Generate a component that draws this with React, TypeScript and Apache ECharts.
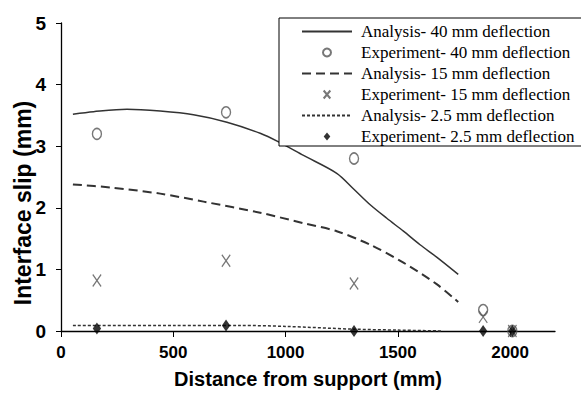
import React, { useEffect, useRef } from "react";
import * as echarts from "echarts";

const xTicks = [0, 500, 1000, 1500, 2000];

const analysis40: [number, number][] = [
  [53, 3.52], [145, 3.56], [294, 3.6], [442, 3.57], [590, 3.51], [739, 3.39],
  [887, 3.21], [969, 3.07], [1080, 2.85], [1228, 2.56], [1302, 2.31], [1377, 2.05],
  [1451, 1.83], [1525, 1.62], [1599, 1.4], [1673, 1.2], [1769, 0.92],
];
const analysis15: [number, number][] = [
  [53, 2.38], [219, 2.33], [442, 2.23], [635, 2.1], [887, 1.92], [1080, 1.75],
  [1228, 1.62], [1377, 1.4], [1525, 1.11], [1673, 0.76], [1769, 0.47],
];
const analysis25: [number, number][] = [
  [53, 0.09], [500, 0.09], [800, 0.09], [1000, 0.075], [1300, 0.03], [1500, 0.015], [1700, 0.0],
];
const experiment40: [number, number][] = [
  [160, 3.2], [735, 3.55], [1305, 2.8], [1880, 0.34], [2010, 0],
];
const experiment15: [number, number][] = [
  [160, 0.82], [735, 1.14], [1305, 0.77], [1880, 0.23], [2010, 0],
];
const experiment25: [number, number][] = [
  [160, 0.04], [735, 0.09], [1305, 0.0], [1880, 0.0], [2010, 0],
];

const names = [
  "Analysis- 40 mm deflection",
  "Experiment- 40 mm deflection",
  "Analysis- 15 mm deflection",
  "Experiment- 15 mm deflection",
  "Analysis- 2.5 mm deflection",
  "Experiment- 2.5 mm deflection",
];
const yTitle = "Interface slip (mm)";
const xTitle = "Distance from support (mm)";

const CROSS = "path://M0,0L10,12M10,0L0,12";
const DIAMOND = "path://M5,0L10,6L5,12L0,6Z";
const axisFont = "Arial, 'Liberation Sans', sans-serif";

export default function App() {
  const ref = useRef<HTMLDivElement>(null);
  useEffect(() => {
    if (!ref.current) return;
    const chart = echarts.init(ref.current, undefined, { renderer: "svg" });
    chart.setOption({
      animation: false,
      backgroundColor: "#ffffff",
      grid: { left: 61, top: 23, width: 494, height: 311 },
      graphic: [
        {
          type: "text",
          x: 23,
          y: 203,
          rotation: Math.PI / 2,
          style: {
            text: yTitle,
            font: "bold 23px Arial, 'Liberation Sans', sans-serif",
            fill: "#000",
            textAlign: "center",
            textVerticalAlign: "middle",
          },
        },
      ],
      legend: {
        orient: "vertical",
        left: 279,
        top: 18,
        padding: [5, 22, 1, 22],
        itemWidth: 50,
        itemHeight: 8,
        itemGap: 4,
        backgroundColor: "#ffffff",
        borderColor: "#000",
        borderWidth: 1,
        borderRadius: 0,
        data: names,
        textStyle: {
          fontFamily: "'Liberation Serif', 'Times New Roman', serif",
          fontSize: 17,
          lineHeight: 17,
          color: "#000",
          padding: [0, 0, 0, 4],
        },
      },
      xAxis: {
        type: "value",
        min: 0,
        max: 2200,
        interval: 500,
        name: xTitle,
        nameLocation: "middle",
        nameGap: 38,
        nameTextStyle: { fontFamily: axisFont, fontWeight: "bold", fontSize: 20, color: "#000" },
        axisLine: { lineStyle: { color: "#000", width: 1.3 } },
        axisTick: { show: true, length: 6, lineStyle: { color: "#000" }, customValues: xTicks },
        axisLabel: {
          customValues: xTicks,
          formatter: (v: number) => String(v),
          margin: 13,
          fontFamily: axisFont,
          fontWeight: "bold",
          fontSize: 17,
          color: "#000",
        },
        splitLine: { show: false },
      },
      yAxis: {
        type: "value",
        min: 0,
        max: 5,
        interval: 1,
        axisLine: { show: true, lineStyle: { color: "#000", width: 1.3 } },
        axisTick: { show: true, length: 5, lineStyle: { color: "#000" } },
        axisLabel: { margin: 15, fontFamily: axisFont, fontWeight: "bold", fontSize: 19, color: "#000" },
        splitLine: { show: false },
      },
      series: [
        {
          name: names[0], type: "line", data: analysis40, smooth: 0.3, symbol: "none",
          lineStyle: { color: "#333", width: 1.5, type: "solid" }, itemStyle: { color: "#333", opacity: 0 }, z: 2,
        },
        {
          name: names[1], type: "scatter", data: experiment40, symbol: "circle", symbolSize: [9, 11],
          itemStyle: { color: "rgba(255,255,255,0)", borderColor: "#555", borderWidth: 1.5 }, z: 3,
        },
        {
          name: names[2], type: "line", data: analysis15, smooth: 0.3, symbol: "none",
          lineStyle: { color: "#333", width: 2, type: [9, 5] }, itemStyle: { color: "#333", opacity: 0 }, z: 2,
        },
        {
          name: names[3], type: "scatter", data: experiment15, symbol: CROSS, symbolSize: [10, 12],
          symbolKeepAspect: true,
          itemStyle: { color: "rgba(255,255,255,0)", borderColor: "#555", borderWidth: 1.3 }, z: 3,
        },
        {
          name: names[4], type: "line", data: analysis25, smooth: 0.3, symbol: "none",
          lineStyle: { color: "#333", width: 1.5, type: [3, 2] }, itemStyle: { color: "#333", opacity: 0 }, z: 2,
        },
        {
          name: names[5], type: "scatter", data: experiment25, symbol: DIAMOND, symbolSize: [10, 12],
          symbolKeepAspect: true,
          itemStyle: { color: "#000" }, z: 4,
        },
      ],
    });
    return () => chart.dispose();
  }, []);
  return <div ref={ref} style={{ position: "fixed", left: 0, top: 0, width: 581, height: 394 }} />;
}
